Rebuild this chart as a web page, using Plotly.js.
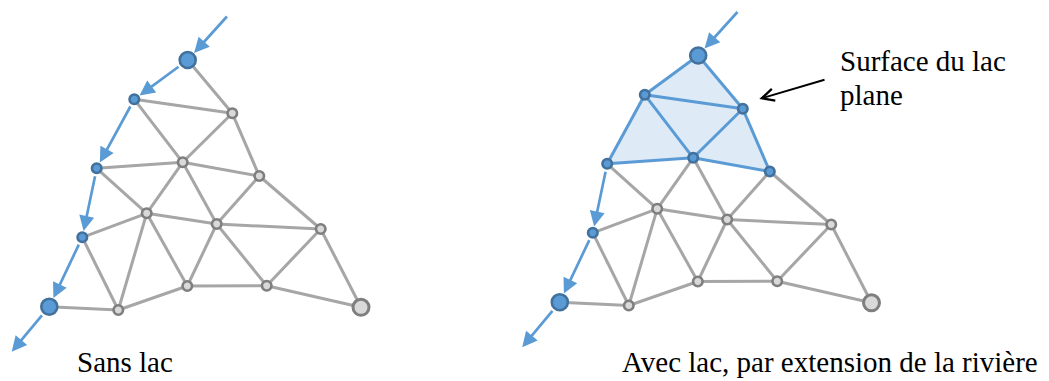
<!DOCTYPE html>
<html>
<head>
<meta charset="utf-8">
<script src="https://cdn.plot.ly/plotly-3.0.1.min.js"></script>
<style>html,body{margin:0;padding:0;background:#fff;}#chart{width:1049px;height:381px;}</style>
</head>
<body>
<div id="chart"></div>
<script>
// ---- data ----
const nodeNames = ['A','B','C','D','E','F','G','H','I','J','K','L','M','N','O'];
const nodeX = [187.7,134.3,232.3,96.7,182.7,259.3,146.7,216.7,320.7,82.3,49.3,118.3,187.3,266.7,361.0];
const nodeY = [60.0,99.3,113.3,168.3,162.3,176.0,213.3,224.0,229.0,237.3,306.7,310.0,286.0,285.7,307.3];
const largeNodes = ['A','K','O'];
const edges = [['A','B'],['A','C'],['B','C'],['B','E'],['B','D'],['C','E'],['C','F'],['D','E'],['D','G'],['D','J'],
  ['E','F'],['E','G'],['E','H'],['F','H'],['F','I'],['G','H'],['G','J'],['G','L'],['G','M'],['H','I'],['H','M'],
  ['H','N'],['I','N'],['I','O'],['J','K'],['J','L'],['K','L'],['L','M'],['M','N'],['N','O']];
const riverIn = [228.3, 15.0];
const riverOut = [11.7, 351.7];
const panelLabels = ['Sans lac', 'Avec lac, par extension de la rivière'];
const panelDx = [0, 510.5];
const panelDy = [0, -4.5];
// per panel: river arrows (directed), blue nodes, blue lake edges, lake outline
const riverArrows = [
  [['A','B'],['B','D'],['D','J'],['J','K']],
  [['D','J'],['J','K']]
];
const blueNodes = [
  ['A','B','D','J','K'],
  ['A','B','C','D','E','F','J','K']
];
const lakeEdges = [[], [['A','B'],['A','C'],['B','C'],['B','E'],['C','E'],['C','F'],['B','D'],['D','E'],['E','F']]];
const lakeOutline = [[], ['A','C','F','E','D','B','A']];
const calloutText = ['Surface du lac', 'plane'];
const calloutFrom = [826, 79.3];
const calloutTo = [759.3, 99.0];

// ---- styles ----
const BLUE = '#5b9bd5', BLUE_DARK = '#41719c', GRAY_LINE = '#a6a6a6', GRAY_FILL = '#d9d9d9', GRAY_DARK = '#7f7f7f';
const FONT = "'Liberation Serif', 'Times New Roman', serif";

const idx = n => nodeNames.indexOf(n);
const has = (list, e) => list.some(p => (p[0]===e[0]&&p[1]===e[1])||(p[0]===e[1]&&p[1]===e[0]));
const traces = [];
const annotations = [];

panelLabels.forEach((label, p) => {
  const px = n => nodeX[idx(n)] + panelDx[p];
  const py = n => nodeY[idx(n)] + panelDy[p];
  // lake fill
  if (lakeOutline[p].length) {
    traces.push({type:'scatter', mode:'lines', x: lakeOutline[p].map(px), y: lakeOutline[p].map(py),
      fill:'toself', fillcolor:'rgba(91,155,213,0.2)', line:{width:0}, hoverinfo:'skip'});
  }
  // gray edges
  const gx = [], gy = [], bx = [], by = [];
  edges.forEach(e => {
    if (has(riverArrows[p], e)) return;
    if (has(lakeEdges[p], e)) { bx.push(px(e[0]), px(e[1]), null); by.push(py(e[0]), py(e[1]), null); }
    else { gx.push(px(e[0]), px(e[1]), null); gy.push(py(e[0]), py(e[1]), null); }
  });
  traces.push({type:'scatter', mode:'lines', x:gx, y:gy, line:{color:GRAY_LINE, width:3}, hoverinfo:'skip'});
  if (bx.length) traces.push({type:'scatter', mode:'lines', x:bx, y:by, line:{color:BLUE, width:3}, hoverinfo:'skip'});
  // nodes
  const sizes = nodeNames.map(n => largeNodes.includes(n) ? 16 : 9.5);
  const isBlue = nodeNames.map(n => blueNodes[p].includes(n));
  traces.push({type:'scatter', mode:'markers', x: nodeNames.map(px), y: nodeNames.map(py), hoverinfo:'skip',
    marker:{size:sizes, opacity:1, color:isBlue.map(b => b ? BLUE : GRAY_FILL),
      line:{width:nodeNames.map(n => n==='O' ? 3 : 2.6), color:isBlue.map(b => b ? BLUE_DARK : GRAY_DARK)}}});
  const rad = n => largeNodes.includes(n) ? 9.5 : 6.5;
  // river arrows
  const arrow = (x0, y0, x1, y1, s0, s1) => annotations.push({x:x1, y:y1, ax:x0, ay:y0, xref:'x', yref:'y', axref:'x', ayref:'y',
    text:'', showarrow:true, arrowhead:2, arrowsize:1.12, arrowwidth:2.7, arrowcolor:BLUE, standoff:s1, startstandoff:s0});
  arrow(riverIn[0]+panelDx[p], riverIn[1]+panelDy[p], px('A'), py('A'), 0, rad('A'));
  riverArrows[p].forEach(e => arrow(px(e[0]), py(e[0]), px(e[1]), py(e[1]), rad(e[0]), rad(e[1])));
  arrow(px('K'), py('K'), riverOut[0]+panelDx[p], riverOut[1]+panelDy[p], rad('K'), 0);
});

// labels
const txt = (x, y, t) => annotations.push({x:x, y:y, xref:'x', yref:'y', xanchor:'left', yanchor:'middle', showarrow:false,
  text:t, font:{family:FONT, size:29, color:'#000'}});
txt(75, 361.9, panelLabels[0]);
txt(619.7, 361.9, panelLabels[1]);
txt(838, 60.6, calloutText[0]);
txt(838, 94.9, calloutText[1]);
annotations.push({x:calloutTo[0], y:calloutTo[1], ax:calloutFrom[0], ay:calloutFrom[1], xref:'x', yref:'y', axref:'x', ayref:'y',
  text:'', showarrow:true, arrowhead:5, arrowsize:1.2, arrowwidth:2, arrowcolor:'#000', standoff:0});

const layout = {
  width:1049, height:381, margin:{l:0,r:0,t:0,b:0}, showlegend:false,
  paper_bgcolor:'#fff', plot_bgcolor:'#fff',
  font:{family:FONT},
  xaxis:{range:[0,1049], visible:false, fixedrange:true},
  yaxis:{range:[381,0], visible:false, fixedrange:true},
  annotations: annotations
};
Plotly.newPlot('chart', traces, layout, {staticPlot:true, displayModeBar:false});
</script>
</body>
</html>
